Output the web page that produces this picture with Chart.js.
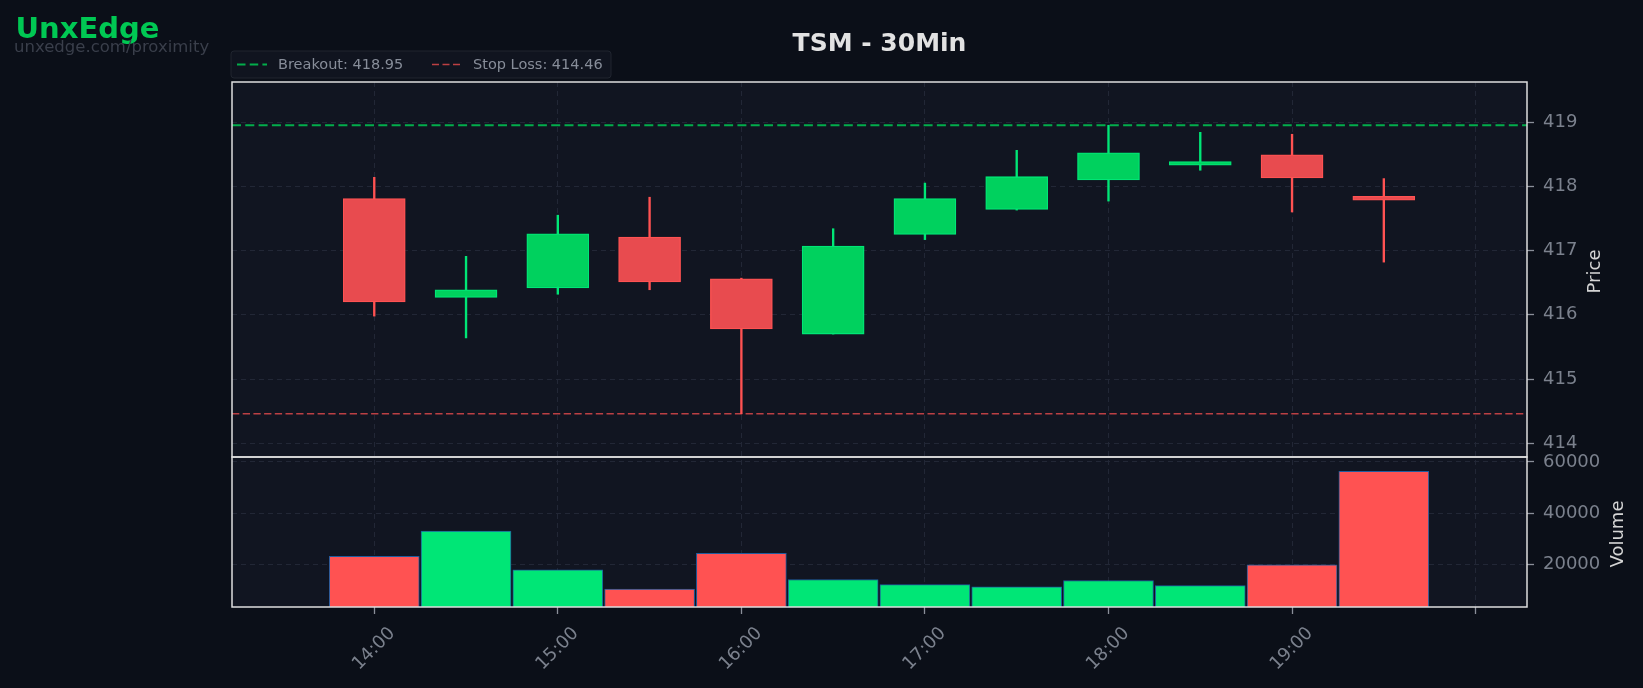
<!DOCTYPE html>
<html>
<head>
<meta charset="utf-8">
<script src="https://cdn.jsdelivr.net/npm/chart.js@4.4.1/dist/chart.umd.min.js"></script>
<style>
	html, body { margin: 0; padding: 0; background: #0b0f18; }
	#wrap { width: 1643px; height: 688px; }
</style>
</head>
<body>
<div id="wrap"><canvas id="chart" width="1643" height="688"></canvas></div>
<script>
/*	TSM 30 minute candles with volume pane */

const times = ['14:00', '14:30', '15:00', '15:30', '16:00', '16:30', '17:00', '17:30', '18:00', '18:30', '19:00', '19:30'];
const opens = [417.81, 416.27, 416.42, 417.21, 416.56, 415.70, 417.25, 417.64, 418.10, 418.33, 418.49, 417.845];
const highs = [418.14, 416.91, 417.55, 417.83, 416.57, 417.34, 418.05, 418.56, 418.95, 418.84, 418.81, 418.12];
const lows = [415.98, 415.64, 416.32, 416.39, 414.46, 415.70, 417.17, 417.63, 417.77, 418.25, 417.60, 416.82];
const closes = [416.20, 416.39, 417.26, 416.51, 415.78, 417.07, 417.81, 418.15, 418.52, 418.385, 418.13, 417.785];
const volumes = [23300, 33100, 18000, 10600, 24500, 14300, 12300, 11400, 13900, 11900, 20000, 56300];

const breakout = 418.95;
const stopLoss = 414.46;

// tick positions on the time axis, the last one has no label
const hourTicks = ['14:00', '15:00', '16:00', '17:00', '18:00', '19:00', '20:00'];
const hourLabels = ['14:00', '15:00', '16:00', '17:00', '18:00', '19:00', ''];
const volumeTicks = [20000, 40000, 60000];

const title = 'TSM - 30Min';
const brand = 'UnxEdge';
const brandUrl = 'unxedge.com/proximity';

// axis limits
const xMin = 13.225;
const xMax = 20.28;
const volMin = 3600;
const volMax = 61900;

const FONT = '"DejaVu Sans", Verdana, sans-serif';
const pageBg = '#0b0f18';
const plotBg = '#111521';
const gridColor = '#222736';
const tickText = '#7b818d';
const upLine = '#00e676';
const upFill = '#00d15e';
const downLine = '#ff5252';
const downFill = '#e84b4f';
const breakoutColor = 'rgba(0,200,83,0.85)';
const stopColor = 'rgba(255,82,82,0.72)';

// hh:mm -> hours as a number
function toHours(label) {
	const parts = label.split(':');
	return Number(parts[0]) + Number(parts[1]) / 60;
}

const xs = times.map(toHours);
const isUp = (i) => closes[i] >= opens[i];

const priceLow = Math.min(stopLoss, ...lows);
const priceHigh = Math.max(breakout, ...highs);
const pricePad = (priceHigh - priceLow) * 0.15;

const panePlugin = {
	id: 'panes',
	beforeDraw(chart) {
		const {ctx, chartArea} = chart;
		ctx.save();
		ctx.fillStyle = pageBg;
		ctx.fillRect(0, 0, chart.width, chart.height);
		ctx.fillStyle = plotBg;
		ctx.fillRect(chartArea.left, chartArea.top, chartArea.right - chartArea.left, chartArea.bottom - chartArea.top);
		ctx.restore();
	},
	afterDatasetsDraw(chart) {
		// white frame round each pane
		const {ctx, chartArea, scales} = chart;
		ctx.save();
		ctx.strokeStyle = '#dedede';
		ctx.lineWidth = 1.5;
		[scales.y, scales.yv].forEach((s) => {
			ctx.strokeRect(chartArea.left, s.top, chartArea.right - chartArea.left, s.bottom - s.top);
		});
		ctx.restore();
	},
	afterDraw(chart) {
		const {ctx, chartArea, scales} = chart;
		ctx.save();
		// title
		ctx.fillStyle = '#e2e2e2';
		ctx.font = 'bold 25px ' + FONT;
		ctx.textAlign = 'center';
		ctx.textBaseline = 'alphabetic';
		ctx.fillText(title, (chartArea.left + chartArea.right) / 2, 51);
		// brand
		ctx.textAlign = 'left';
		ctx.fillStyle = '#00c853';
		ctx.font = 'bold 29px ' + FONT;
		ctx.fillText(brand, 15.5, 37.5);
		ctx.fillStyle = '#3a3f4b';
		ctx.font = '16.5px ' + FONT;
		ctx.fillText(brandUrl, 14, 52);
		// legend
		const lx = chartArea.left - 1, ly = 51, lw = 380, lh = 27;
		ctx.beginPath();
		ctx.roundRect(lx, ly, lw, lh, 3);
		ctx.fillStyle = '#10141f';
		ctx.fill();
		ctx.strokeStyle = '#20252f';
		ctx.lineWidth = 1;
		ctx.stroke();
		const items = [
			{color: breakoutColor, dash: [8.5, 4.2], width: 2, text: 'Breakout: ' + breakout.toFixed(2), x: 237},
			{color: stopColor, dash: [7, 3.5], width: 1.6, text: 'Stop Loss: ' + stopLoss.toFixed(2), x: 432}
		];
		ctx.font = '14.5px ' + FONT;
		ctx.textBaseline = 'middle';
		items.forEach((item) => {
			ctx.beginPath();
			ctx.setLineDash(item.dash);
			ctx.strokeStyle = item.color;
			ctx.lineWidth = item.width;
			ctx.moveTo(item.x, ly + 13.5);
			ctx.lineTo(item.x + 30, ly + 13.5);
			ctx.stroke();
			ctx.setLineDash([]);
			ctx.fillStyle = '#878d99';
			ctx.fillText(item.text, item.x + 41, ly + 14);
		});
		// axis titles, reading upwards
		ctx.fillStyle = '#d4d4d4';
		ctx.font = '18px ' + FONT;
		ctx.textAlign = 'center';
		ctx.textBaseline = 'middle';
		[[scales.y, 'Price', 68], [scales.yv, 'Volume', 91]].forEach(([s, text, dx]) => {
			ctx.save();
			ctx.translate(chartArea.right + dx, (s.top + s.bottom) / 2 + 2);
			ctx.rotate(-Math.PI / 2);
			ctx.fillText(text, 0, 0);
			ctx.restore();
		});
		ctx.restore();
	}
};

const gridOpts = {
	color: gridColor,
	lineWidth: 1,
	tickColor: '#8a8f99',
	tickLength: 7,
	tickWidth: 1.3,
	offset: false
};
const borderOpts = {display: false, dash: [5, 4]};
const tickFont = {family: FONT, size: 18};

new Chart(document.getElementById('chart'), {
	type: 'bar',
	data: {
		datasets: [
			{
				label: 'breakout',
				type: 'line',
				data: [{x: xMin, y: breakout}, {x: xMax, y: breakout}],
				yAxisID: 'y',
				borderColor: breakoutColor,
				borderWidth: 2,
				borderDash: [9, 4.3],
				pointRadius: 0,
				order: 0
			},
			{
				label: 'stop',
				type: 'line',
				data: [{x: xMin, y: stopLoss}, {x: xMax, y: stopLoss}],
				yAxisID: 'y',
				borderColor: stopColor,
				borderWidth: 1.6,
				borderDash: [7.3, 3.4],
				pointRadius: 0,
				order: 0
			},
			{
				label: 'body',
				data: xs.map((x, i) => ({x: x, y: [opens[i], closes[i]]})),
				yAxisID: 'y',
				grouped: false,
				barThickness: 62,
				borderWidth: 1.3,
				borderSkipped: false,
				backgroundColor: (c) => isUp(c.dataIndex) ? upFill : downFill,
				borderColor: (c) => isUp(c.dataIndex) ? upLine : downLine,
				order: 1
			},
			{
				label: 'wick',
				data: xs.map((x, i) => ({x: x, y: [lows[i], highs[i]]})),
				yAxisID: 'y',
				grouped: false,
				barThickness: 1.7,
				borderWidth: 0,
				backgroundColor: (c) => isUp(c.dataIndex) ? upLine : downLine,
				order: 2
			},
			{
				label: 'volume',
				data: xs.map((x, i) => ({x: x, y: volumes[i]})),
				yAxisID: 'yv',
				grouped: false,
				barThickness: 90,
				borderWidth: 1,
				borderSkipped: false,
				borderColor: '#1f5c9e',
				backgroundColor: (c) => isUp(c.dataIndex) ? upLine : downLine,
				order: 3
			}
		]
	},
	options: {
		responsive: false,
		devicePixelRatio: 1,
		animation: false,
		events: [],
		layout: {
			padding: {left: 232, top: 82, right: 0, bottom: 0}
		},
		scales: {
			x: {
				type: 'linear',
				position: 'bottom',
				offset: false,
				min: xMin,
				max: xMax,
				afterBuildTicks: (s) => {
					s.ticks = hourTicks.map((t) => ({value: toHours(t)}));
				},
				ticks: {
					callback: (v, i) => hourLabels[i],
					color: tickText,
					font: tickFont,
					minRotation: 45,
					maxRotation: 45,
					labelOffset: 18,
					padding: 9,
					autoSkip: false
				},
				grid: gridOpts,
				border: borderOpts,
				afterFit: (s) => { s.height = 81; }
			},
			y: {
				type: 'linear',
				position: 'right',
				stack: 'panes',
				stackWeight: 2.5,
				min: priceLow - pricePad,
				max: priceHigh + pricePad,
				ticks: {
					stepSize: 1,
					includeBounds: false,
					color: tickText,
					font: tickFont,
					padding: 9
				},
				grid: gridOpts,
				border: borderOpts,
				afterFit: (s) => { s.width = 116; }
			},
			yv: {
				type: 'linear',
				position: 'right',
				stack: 'panes',
				stackWeight: 1,
				min: volMin,
				max: volMax,
				afterBuildTicks: (s) => {
					s.ticks = volumeTicks.map((v) => ({value: v}));
				},
				ticks: {
					callback: (v) => String(v),
					color: tickText,
					font: tickFont,
					padding: 9
				},
				grid: gridOpts,
				border: borderOpts,
				afterFit: (s) => { s.width = 116; }
			}
		},
		plugins: {
			legend: {display: false},
			title: {display: false},
			tooltip: {enabled: false}
		}
	},
	plugins: [panePlugin]
});
</script>
</body>
</html>
